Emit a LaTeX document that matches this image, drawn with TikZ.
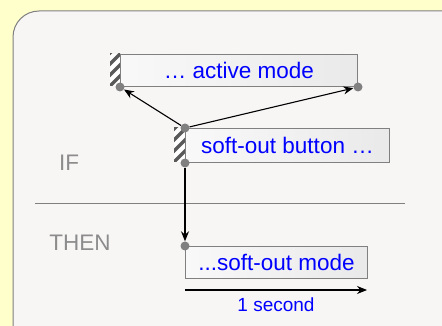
\documentclass[tikz,border=0pt]{standalone}
\usepackage{fontspec}
\setmainfont{Liberation Sans}
\usetikzlibrary{arrows.meta}
\definecolor{notepaper}{RGB}{255,255,204}
\definecolor{panelfill}{RGB}{248,245,245}
\definecolor{rulegray}{RGB}{128,128,128}
\definecolor{labelgray}{RGB}{140,140,140}
\definecolor{modeblue}{RGB}{0,0,255}
\tikzset{
  every node/.style={font=\fontsize{22.5}{26}\selectfont},
  line cap=round,line join=round,
  modebox/.style={draw=rulegray,line width=1pt,left color=gray!5,right color=gray!17,
    text=modeblue,anchor=north west,inner sep=0pt,minimum height=32pt},
  pin/.style={circle,fill=rulegray,inner sep=0pt,minimum size=9pt},
  sidelabel/.style={text=labelgray},
  flow/.style={line width=1.1pt,-{Stealth[length=10pt,width=8pt]}}
}
% striped tag on the left side of a box
\newcommand{\hatchtag}[4]{%
  \fill[white] (#1,#2) rectangle (#3,#4);
  \begin{scope}
    \clip (#1,#2) rectangle (#3,#4);
    \foreach \s in {-44,-33,...,44}
      \draw[line width=3.4pt,black!65] (#1+\s,#4) -- (#1+\s+40,#4-40);
  \end{scope}}

\begin{document}
\begin{tikzpicture}[x=1pt,y=-1pt]
  \path[use as bounding box] (0,0) rectangle (442,326);
  \clip (0,0) rectangle (442,326);
  \fill[notepaper] (0,0) rectangle (442,326);
  \draw[rulegray,line width=1pt,fill=panelfill,rounded corners=26pt] (13,11) rectangle (470,352);

  % IF / THEN divider
  \draw[rulegray,line width=0.8pt] (35,203) -- (405,203);
  \node[sidelabel] (iflabel) at (69,163) {IF};
  \node[sidelabel] (thenlabel) at (80,243) {THEN};

  % the three mode boxes
  \hatchtag{110}{54}{120}{86}
  \node[modebox,minimum width=237pt] (active) at (120,54) {\dots\ active mode};
  \hatchtag{174}{128}{185}{162}
  \node[modebox,minimum width=204pt,minimum height=34pt] (button) at (185,128) {soft-out button \dots};
  \node[modebox,minimum width=182pt] (softout) at (185,246) {...soft-out mode};

  \node[pin] (activeL) at (active.south west) {};
  \node[pin] (activeR) at (active.south east) {};
  \node[pin] (buttonT) at (button.north west) {};
  \node[pin] (buttonB) at (button.south west) {};
  \node[pin] (softoutT) at (softout.north west) {};

  \draw[flow] (buttonT) -- (activeL);
  \draw[flow] (buttonT) -- (activeR);
  \draw[flow] (buttonB) -- (softoutT);

  % time axis
  \coordinate (t0) at (185,290);
  \coordinate (t1) at (367,290);
  \draw[flow] (t0) -- (t1)
    node[midway,below=4pt,text=modeblue,font=\fontsize{19}{22}\selectfont] (delay) {1 second};
\end{tikzpicture}
\end{document}
